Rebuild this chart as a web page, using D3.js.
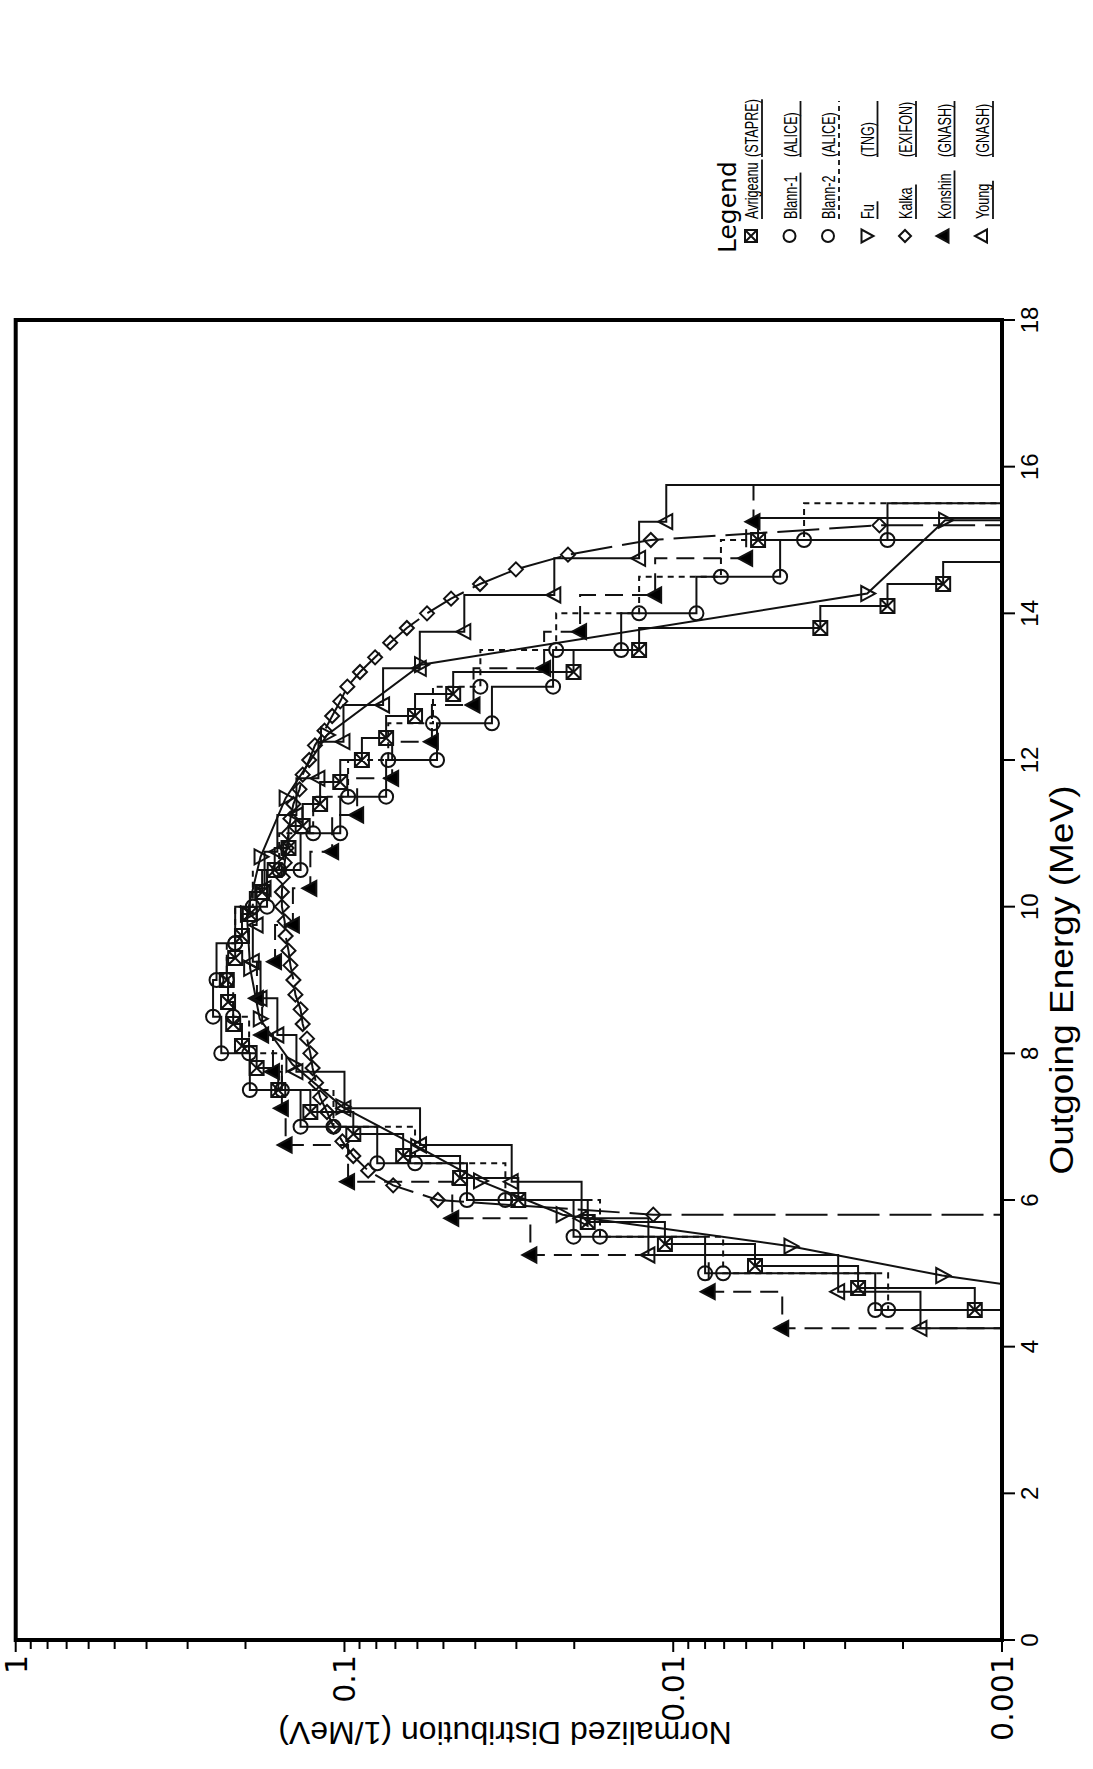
<!DOCTYPE html>
<html>
<head>
<meta charset="utf-8">
<script src="https://cdn.jsdelivr.net/npm/d3@7"></script>
<style>
  body { margin: 0; background: #fff; }
  svg { display: block; }
</style>
</head>
<body>
<script>
// ---- axis ticks ----
const energyTicks = [0, 2, 4, 6, 8, 10, 12, 14, 16, 18];
const valueTicks = [0.001, 0.01, 0.1, 1];
const valueTickLabels = ["0.001", "0.01", "0.1", "1"];

// ---- spectra (energy in MeV, normalized distribution in 1/MeV) ----
// Avrigeanu (STAPRE): 0.3 MeV bins, value given at lower bin edge
const avrigeanuE = [4.5, 4.8, 5.1, 5.4, 5.7, 6.0, 6.3, 6.6, 6.9, 7.2, 7.5, 7.8, 8.1, 8.4, 8.7, 9.0, 9.3, 9.6, 9.9, 10.2,
  10.5, 10.8, 11.1, 11.4, 11.7, 12.0, 12.3, 12.6, 12.9, 13.2, 13.5, 13.8, 14.1, 14.4, 14.7, 15.0];
const avrigeanuV = [0.00121, 0.00274, 0.00564, 0.0106, 0.0182, 0.0296, 0.0445, 0.0663, 0.094, 0.127, 0.159, 0.185, 0.205,
  0.218, 0.226, 0.228, 0.215, 0.205, 0.194, 0.178, 0.163, 0.148, 0.134, 0.1186, 0.103, 0.0885, 0.0747, 0.061, 0.0467,
  0.0201, 0.0127, 0.00357, 0.00223, 0.00151, 0.0005, 0.00552];

// Blann-1 and Blann-2 (ALICE): 0.5 MeV bins
const blannE = [4.5, 5.0, 5.5, 6.0, 6.5, 7.0, 7.5, 8.0, 8.5, 9.0, 9.5, 10.0, 10.5, 11.0, 11.5, 12.0, 12.5, 13.0, 13.5,
  14.0, 14.5, 15.0];
const blann1V = [0.00243, 0.0080, 0.0201, 0.0424, 0.0795, 0.136, 0.194, 0.237, 0.251, 0.245, 0.215, 0.172, 0.136, 0.103,
  0.0747, 0.0523, 0.0356, 0.0232, 0.0144, 0.0085, 0.00473, 0.00223];
const blann2V = [0.00222, 0.00705, 0.0167, 0.0324, 0.061, 0.108, 0.155, 0.195, 0.218, 0.228, 0.215, 0.19, 0.158, 0.1245,
  0.0975, 0.0736, 0.0538, 0.0386, 0.0227, 0.0127, 0.00716, 0.004];

// Fu (TNG): point-wise spectrum
const fuE = [4.6, 4.97, 5.37, 5.8, 6.26, 6.73, 7.27, 7.85, 8.47, 9.16, 9.9, 10.68, 11.48, 12.34, 13.3, 14.27, 15.27];
const fuV = [0.0004, 0.00152, 0.0044, 0.0217, 0.0387, 0.0601, 0.1015, 0.144, 0.181, 0.1936, 0.198, 0.18, 0.151, 0.113,
  0.0585, 0.00257, 0.00149];

// Kalka (EXIFON): point-wise spectrum
const kalkaE = [5.8, 6.0, 6.2, 6.4, 6.6, 6.8, 7.0, 7.2, 7.4, 7.6, 7.8, 8.0, 8.2, 8.4, 8.6, 8.8, 9.0, 9.2, 9.4, 9.6, 9.8,
  10.0, 10.2, 10.4, 10.6, 10.8, 11.0, 11.2, 11.4, 11.6, 11.8, 12.0, 12.2, 12.4, 12.6, 12.8, 13.0, 13.2, 13.4, 13.6, 13.8,
  14.0, 14.2, 14.4, 14.6, 14.8, 15.0, 15.2];
const kalkaV = [0.0115, 0.052, 0.0711, 0.0847, 0.094, 0.1015, 0.108, 0.113, 0.1186, 0.122, 0.125, 0.127, 0.13, 0.134,
  0.136, 0.141, 0.143, 0.146, 0.148, 0.151, 0.152, 0.155, 0.155, 0.154, 0.152, 0.150, 0.148, 0.146, 0.143, 0.137, 0.134,
  0.128, 0.123, 0.115, 0.109, 0.103, 0.098, 0.0897, 0.0807, 0.0726, 0.0646, 0.0561, 0.0474, 0.0387, 0.0301, 0.0209,
  0.0117, 0.00236];

// Konshin and Young (GNASH): 0.5 MeV bins
const gnashE = [4.25, 4.75, 5.25, 5.75, 6.25, 6.75, 7.25, 7.75, 8.25, 8.75, 9.25, 9.75, 10.25, 10.75, 11.25, 11.75,
  12.25, 12.75, 13.25, 13.75, 14.25, 14.75, 15.25];
const konshinV = [0.00466, 0.0078, 0.0272, 0.047, 0.0975, 0.151, 0.155, 0.165, 0.178, 0.1846, 0.1626, 0.1435, 0.127,
  0.109, 0.0915, 0.0716, 0.0542, 0.0405, 0.0247, 0.0192, 0.01135, 0.006, 0.0057];
const youngV = [0.00177, 0.00315, 0.0119, 0.019, 0.031, 0.0589, 0.10, 0.14, 0.16, 0.18, 0.19, 0.185, 0.175, 0.16, 0.14,
  0.12, 0.1007, 0.0763, 0.059, 0.0432, 0.023, 0.0127, 0.0105];

// ---- legend ----
const legendNames = ["Avrigeanu", "Blann-1", "Blann-2", "Fu", "Kalka", "Konshin", "Young"];
const legendCodes = ["(STAPRE)", "(ALICE)", "(ALICE)", "(TNG)", "(EXIFON)", "(GNASH)", "(GNASH)"];

// ---------------------------------------------------------------
const W = 1093, H = 1769;       // page
const FLOOR = 1e-5;             // "zero" below the log axis (clipped away)

const x = d3.scaleLinear().domain([0, 18]).range([129, 1449]);
const y = d3.scaleLog().domain([0.001, 1]).range([1002, 15.7]);

const svg = d3.select("body").append("svg")
  .attr("width", W).attr("height", H)
  .attr("viewBox", `0 0 ${W} ${H}`);

// the chart is laid out landscape, then turned a quarter turn counter-clockwise
const g = svg.append("g").attr("transform", `translate(0,${H}) rotate(-90)`);

g.append("clipPath").attr("id", "plotClip")
  .append("rect")
  .attr("x", x(0)).attr("y", y(1))
  .attr("width", x(18) - x(0)).attr("height", y(0.001) - y(1));

// marker shapes (landscape orientation)
function shapePath(kind, S) {
  switch (kind) {
    case "boxx": return `M${-S},${-S}H${S}V${S}H${-S}Z M${-S},${-S}L${S},${S} M${S},${-S}L${-S},${S}`;
    case "circle": return `M${S},0A${S},${S} 0 1,1 ${-S},0A${S},${S} 0 1,1 ${S},0Z`;
    case "triDown": return `M${-S - 0.5},${-S + 1}L${S + 0.5},${-S + 1}L0,${S + 1}Z`;
    case "triUp": return `M${-S - 0.5},${S - 1}L${S + 0.5},${S - 1}L0,${-S - 1}Z`;
    case "diamond": return `M0,${-S}L${S},0L0,${S}L${-S},0Z`;
  }
}

function stepPoints(E, V, width) {
  const pts = [[E[0], FLOOR]];
  E.forEach((e, i) => pts.push([e, V[i]]));
  const end = E[E.length - 1] + width;
  pts.push([end, V[V.length - 1]]);
  pts.push([end, FLOOR]);
  return pts;
}

const series = [
  { E: avrigeanuE, V: avrigeanuV, step: 0.3, shape: "boxx", fill: "none", dash: null },
  { E: blannE, V: blann1V, step: 0.5, shape: "circle", fill: "none", dash: null },
  { E: blannE, V: blann2V, step: 0.5, shape: "circle", fill: "none", dash: "6,5", keyDash: "5,4" },
  { E: fuE, V: fuV, step: null, shape: "triDown", fill: "none", dash: null, openStart: true },
  { E: kalkaE, V: kalkaV, step: null, shape: "diamond", fill: "none", dash: "42,10" },
  { E: gnashE, V: konshinV, step: 0.5, shape: "triUp", fill: "#000", dash: "18,9" },
  { E: gnashE, V: youngV, step: 0.5, shape: "triUp", fill: "none", dash: null }
];

const stepLine = d3.line().x(d => x(d[0])).y(d => y(d[1])).curve(d3.curveStepAfter);
const straightLine = d3.line().x(d => x(d[0])).y(d => y(d[1]));

const plot = g.append("g").attr("clip-path", "url(#plotClip)");

series.forEach(s => {
  let d;
  if (s.step) {
    d = stepLine(stepPoints(s.E, s.V, s.step));
  } else {
    const pts = s.E.map((e, i) => [e, s.V[i]]);
    if (!s.openStart) pts.unshift([s.E[0], FLOOR]);
    pts.push([s.E[s.E.length - 1], FLOOR]);
    d = straightLine(pts);
  }
  plot.append("path")
    .attr("d", d)
    .attr("fill", "none")
    .attr("stroke", "#111")
    .attr("stroke-width", 2)
    .attr("stroke-dasharray", s.dash);
});

series.forEach(s => {
  const pts = s.E.map((e, i) => [e, s.V[i]]).filter(p => p[1] >= 0.001);
  plot.selectAll(null).data(pts).enter().append("path")
    .attr("transform", p => `translate(${x(p[0])},${y(p[1])})`)
    .attr("d", shapePath(s.shape, 7))
    .attr("fill", s.fill)
    .attr("stroke", "#111")
    .attr("stroke-width", 2);
});

// ---- frame ----
g.append("rect")
  .attr("x", x(0)).attr("y", y(1))
  .attr("width", x(18) - x(0)).attr("height", y(0.001) - y(1))
  .attr("fill", "none").attr("stroke", "#000").attr("stroke-width", 4);

// ---- energy axis ----
const tickFont = "'Liberation Sans', Arial, sans-serif";
const eAxis = g.append("g");
eAxis.selectAll("line").data(energyTicks).enter().append("line")
  .attr("x1", d => x(d)).attr("x2", d => x(d))
  .attr("y1", y(0.001)).attr("y2", y(0.001) + 13)
  .attr("stroke", "#000").attr("stroke-width", 2);
eAxis.selectAll("text").data(energyTicks).enter().append("text")
  .attr("x", d => x(d)).attr("y", y(0.001) + 36)
  .attr("text-anchor", "middle")
  .style("font-family", tickFont).style("font-size", "24px")
  .text(d => d);
g.append("text")
  .attr("x", (x(0) + x(18)) / 2).attr("y", 1073)
  .attr("text-anchor", "middle")
  .attr("textLength", 389).attr("lengthAdjust", "spacingAndGlyphs")
  .style("font-family", tickFont).style("font-size", "34px")
  .text("Outgoing Energy (MeV)");

// ---- value axis (log) ----
const minor = [];
[0.001, 0.01, 0.1].forEach(dec => { for (let k = 2; k <= 9; k++) minor.push(dec * k); });
const vAxis = g.append("g");
vAxis.selectAll("line.minor").data(minor).enter().append("line")
  .attr("x1", x(0)).attr("x2", x(0) - 9)
  .attr("y1", d => y(d)).attr("y2", d => y(d))
  .attr("stroke", "#000").attr("stroke-width", 2);
vAxis.selectAll("line.major").data(valueTicks).enter().append("line")
  .attr("x1", x(0)).attr("x2", x(0) - 12)
  .attr("y1", d => y(d)).attr("y2", d => y(d))
  .attr("stroke", "#000").attr("stroke-width", 2);
vAxis.selectAll("text").data(valueTicks).enter().append("text")
  .attr("x", x(0) - 15).attr("y", d => y(d))
  .attr("dy", "0.36em")
  .attr("text-anchor", "end")
  .style("font-family", "'DejaVu Sans', sans-serif").style("font-size", "30px")
  .text((d, i) => valueTickLabels[i]);
g.append("text")
  .attr("transform", "translate(47,505) rotate(-90)")
  .attr("text-anchor", "middle")
  .style("font-family", tickFont).style("font-size", "32px")
  .text("Normalized Distribution (1/MeV)");

// ---- legend ----
const lg = g.append("g");
lg.append("text")
  .attr("x", 1516).attr("y", 736)
  .style("font-family", "'DejaVu Sans', sans-serif").style("font-size", "25px")
  .text("Legend");
const nameX = 1550, codeX = 1612, lineEnd = 1668;
function keyText(xPos, yPos, str) {
  const t = lg.append("text")
    .attr("x", xPos).attr("y", yPos)
    .style("font-family", tickFont).style("font-size", "18px")
    .text(str);
  // condensed lettering
  const w = t.node().getComputedTextLength();
  t.attr("textLength", w * 0.7).attr("lengthAdjust", "spacingAndGlyphs");
  return { x: xPos, w: w * 0.7 };
}
legendNames.forEach((name, i) => {
  const s = series[i];
  const cy = 751 + 38.5 * i;
  lg.append("path")
    .attr("transform", `translate(1533,${cy})`)
    .attr("d", shapePath(s.shape, 6))
    .attr("fill", s.fill).attr("stroke", "#111").attr("stroke-width", 2);
  const a = keyText(nameX, cy + 7, name);
  const b = keyText(codeX, cy + 7, legendCodes[i]);
  if (s.keyDash) {
    lg.append("line")
      .attr("x1", nameX).attr("x2", lineEnd)
      .attr("y1", cy + 11).attr("y2", cy + 11)
      .attr("stroke", "#111").attr("stroke-width", 1.8)
      .attr("stroke-dasharray", s.keyDash);
  } else {
    [[a.x, a.x + a.w + 3], [b.x, Math.max(lineEnd, b.x + b.w)]].forEach(seg => {
      lg.append("line")
        .attr("x1", seg[0]).attr("x2", seg[1])
        .attr("y1", cy + 11).attr("y2", cy + 11)
        .attr("stroke", "#111").attr("stroke-width", 1.8);
    });
  }
});
</script>
</body>
</html>
